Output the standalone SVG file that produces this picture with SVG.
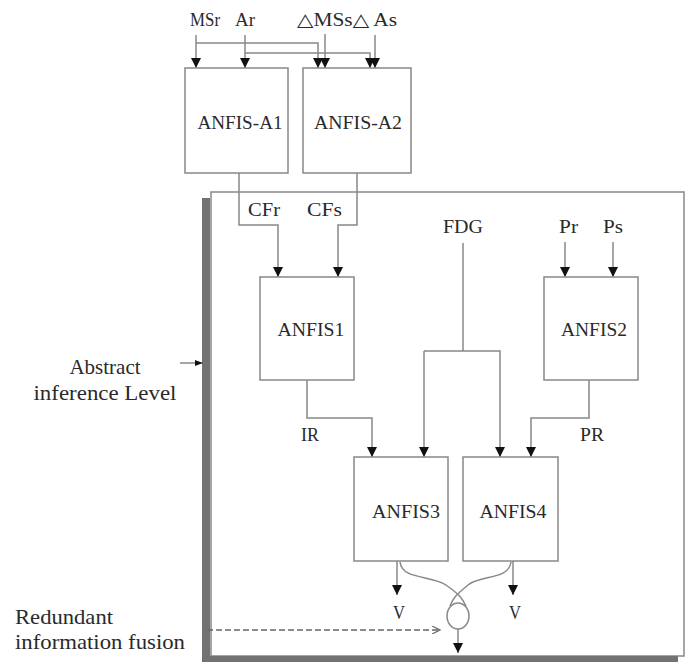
<svg xmlns="http://www.w3.org/2000/svg" width="686" height="662" viewBox="0 0 686 662">
<style>
text{font-family:"Times New Roman","Liberation Serif","Noto Serif","DejaVu Serif",serif;fill:#2a2a2a;}
.lbl{font-size:18px;}
.node{font-size:19px;text-anchor:middle;}
.side{font-size:21px;}
.box{fill:#fff;stroke:#888;stroke-width:1.5;}
.ln{fill:none;stroke:#888;stroke-width:1.5;}
.ar{fill:none;stroke:#888;stroke-width:1.5;marker-end:url(#ah);}
</style>
<defs>
<marker id="ah" viewBox="0 0 10 10" refX="10" refY="5" markerWidth="10" markerHeight="10" markerUnits="userSpaceOnUse" orient="auto">
<path d="M0,0 L10,5 L0,10 z" fill="#111"/>
</marker>
<marker id="open" viewBox="0 0 10 10" refX="10" refY="5" markerWidth="10" markerHeight="8" markerUnits="userSpaceOnUse" orient="auto">
<path d="M0,0 L10,5 L0,10" fill="none" stroke="#666" stroke-width="1.5"/>
</marker>
<marker id="dot" viewBox="0 0 10 10" refX="9" refY="5" markerWidth="8" markerHeight="8" markerUnits="userSpaceOnUse" orient="auto">
<path d="M0,1 L10,5 L0,9 z" fill="#111"/>
</marker>
</defs>
<rect width="686" height="662" fill="#fff"/>

<g id="level-box">
<rect x="211" y="192" width="473" height="464" fill="#fff" stroke="#888" stroke-width="1.5"/>
<rect x="202" y="198" width="8" height="464" fill="#727272"/>
<rect x="202" y="656" width="476" height="6" fill="#727272"/>
</g>

<g id="labels">
<text class="lbl" x="190" y="26" textLength="30" lengthAdjust="spacingAndGlyphs">MSr</text>
<text class="lbl" x="235" y="26" textLength="20" lengthAdjust="spacingAndGlyphs">Ar</text>
<text class="lbl" x="297" y="26" textLength="100" lengthAdjust="spacingAndGlyphs">△MSs△ As</text>
<text class="lbl" x="248" y="216" textLength="32" lengthAdjust="spacingAndGlyphs">CFr</text>
<text class="lbl" x="307" y="216" textLength="35" lengthAdjust="spacingAndGlyphs">CFs</text>
<text class="lbl" x="443" y="233" textLength="40" lengthAdjust="spacingAndGlyphs">FDG</text>
<text class="lbl" x="559" y="233" textLength="19" lengthAdjust="spacingAndGlyphs">Pr</text>
<text class="lbl" x="603" y="233" textLength="20" lengthAdjust="spacingAndGlyphs">Ps</text>
<text class="lbl" x="301" y="441" textLength="18" lengthAdjust="spacingAndGlyphs">IR</text>
<text class="lbl" x="580" y="441" textLength="24" lengthAdjust="spacingAndGlyphs">PR</text>
<text class="lbl" x="393" y="619" textLength="12" lengthAdjust="spacingAndGlyphs">V</text>
<text class="lbl" x="509" y="619" textLength="12" lengthAdjust="spacingAndGlyphs">V</text>
<text class="side" x="105" y="374" text-anchor="middle">Abstract</text>
<text class="side" x="105" y="400" text-anchor="middle" textLength="143" lengthAdjust="spacingAndGlyphs">inference Level</text>
<text class="side" x="15" y="624" textLength="98" lengthAdjust="spacingAndGlyphs">Redundant</text>
<text class="side" x="15" y="649" textLength="170" lengthAdjust="spacingAndGlyphs">information fusion</text>
</g>

<g id="connectors">
<path class="ar" d="M196,35 V68"/>
<path class="ar" d="M245,35 V68"/>
<path class="ar" d="M196,43 H318 V68"/>
<path class="ar" d="M245,53 H370 V68"/>
<path class="ar" d="M325,34 V68"/>
<path class="ar" d="M375,35 V68"/>
<path class="ar" d="M239,173 V225 H278 V277"/>
<path class="ar" d="M357,173 V225 H338 V277"/>
<path class="ar" d="M565,242 V277"/>
<path class="ar" d="M613,242 V277"/>
<path class="ln" d="M463,243 V351"/>
<path class="ar" d="M424,351 H500 V457"/>
<path class="ar" d="M424,351 V457"/>
<path class="ar" d="M307,380 V418 H372 V457"/>
<path class="ar" d="M589,380 V418 H531 V457"/>
<path class="ar" d="M397,561 V595"/>
<path class="ar" d="M513,561 V595"/>
<path class="ln" d="M400,562 C402,580 432,575 446,585 S462,598 466,606"/>
<path class="ln" d="M511,562 C509,580 480,575 468,585 S453,598 450,606"/>
<path class="ar" d="M458,629 V653"/>
<path d="M207,630 H440" fill="none" stroke="#666" stroke-width="1.5" stroke-dasharray="6,3" marker-end="url(#open)"/>
<path d="M180,363 H202" fill="none" stroke="#888" stroke-width="1.5" marker-end="url(#dot)"/>
</g>

<g id="ANFIS-A1"><rect class="box" x="185" y="68" width="103" height="105"/><text class="node" x="240" y="129" textLength="85" lengthAdjust="spacingAndGlyphs">ANFIS-A1</text></g>
<g id="ANFIS-A2"><rect class="box" x="303" y="68" width="108" height="105"/><text class="node" x="358" y="129" textLength="88" lengthAdjust="spacingAndGlyphs">ANFIS-A2</text></g>
<g id="ANFIS1"><rect class="box" x="260" y="277" width="94" height="103"/><text class="node" x="311" y="336" textLength="67" lengthAdjust="spacingAndGlyphs">ANFIS1</text></g>
<g id="ANFIS2"><rect class="box" x="544" y="277" width="94" height="103"/><text class="node" x="594" y="336" textLength="66" lengthAdjust="spacingAndGlyphs">ANFIS2</text></g>
<g id="ANFIS3"><rect class="box" x="354" y="457" width="94" height="104"/><text class="node" x="406" y="518" textLength="68" lengthAdjust="spacingAndGlyphs">ANFIS3</text></g>
<g id="ANFIS4"><rect class="box" x="463" y="457" width="95" height="104"/><text class="node" x="513" y="518" textLength="67" lengthAdjust="spacingAndGlyphs">ANFIS4</text></g>
<g id="fusion"><ellipse cx="458" cy="616" rx="11" ry="13" fill="#fff" stroke="#888" stroke-width="1.5"/></g>
</svg>
